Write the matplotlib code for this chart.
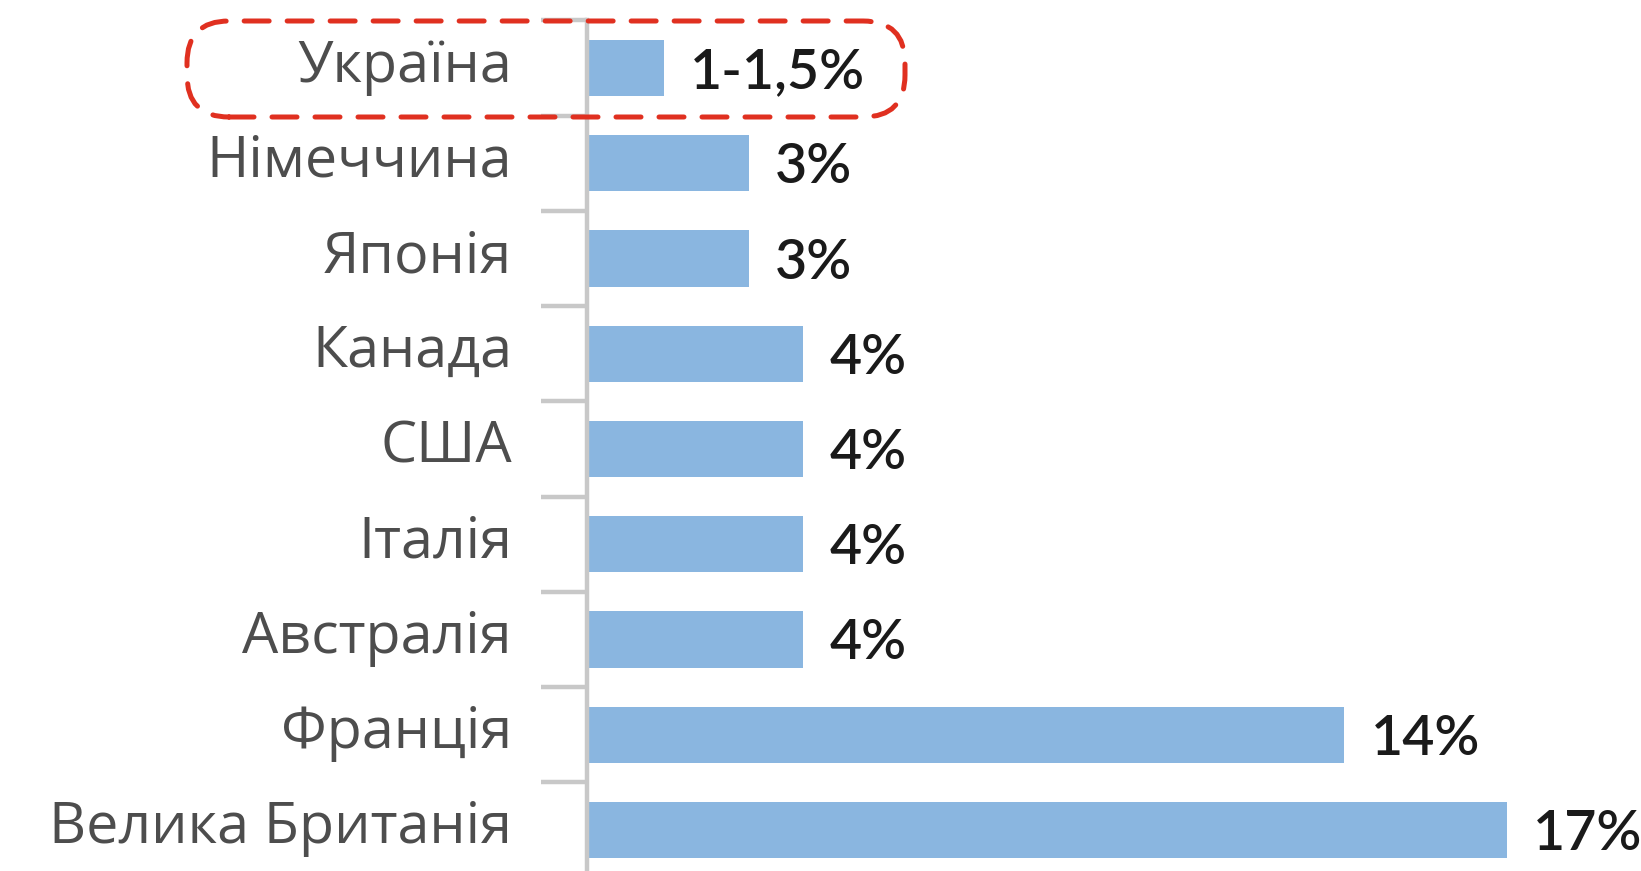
import matplotlib
matplotlib.use("Agg")
import matplotlib.pyplot as plt
from matplotlib.patches import FancyBboxPatch
from matplotlib.transforms import IdentityTransform
import numpy as np

countries = ["Україна", "Німеччина", "Японія", "Канада", "США", "Італія",
             "Австралія", "Франція", "Велика Британія"]
values = [1.43, 3, 3, 4, 4, 4, 4, 14, 17]
value_labels = ["1-1,5%", "3%", "3%", "4%", "4%", "4%", "4%", "14%", "17%"]

LABEL_FONT = ["Open Sans", "DejaVu Sans"]
VALUE_FONT = ["Lato", "DejaVu Sans"]
plt.rcParams["font.family"] = LABEL_FONT

W, H, DPI = 1641, 871, 100
PX = 72 / DPI  # points per pixel
fig = plt.figure(figsize=(W / DPI, H / DPI), dpi=DPI)
fig.patch.set_facecolor("white")

ax_left = 587 / W
ax_top = 1 - 20.4 / H
ax_bottom = 1 - 877.6 / H
ax = fig.add_axes([ax_left, ax_bottom, 1 - ax_left, ax_top - ax_bottom])

y = np.arange(len(countries))
ax.barh(y, values, height=0.59, color="#8ab6e0", zorder=2)
ax.set_ylim(len(countries) - 0.5, -0.5)
ax.set_xlim(0, (W - 587) / 54.1)

for spine in ["top", "right", "bottom"]:
    ax.spines[spine].set_visible(False)
ax.spines["left"].set_color("#c8c8c8")
ax.spines["left"].set_linewidth(3.2)
ax.spines["left"].set_zorder(3)
ax.set_xticks([])

ax.set_yticks(y)
ax.set_yticklabels([])
ax.tick_params(axis="y", which="major", length=0)
ax.set_yticks(np.arange(-0.5, len(countries) + 0.5, 1), minor=True)
ax.tick_params(axis="y", which="minor", length=33, width=3.2, color="#c8c8c8")

FS = 41.3
for yi, name in zip(y, countries):
    ax.annotate(name, xy=(0, yi), xytext=(-75 * PX, -13.5 * PX),
                textcoords="offset points", ha="right", va="baseline",
                fontsize=FS, color="#4d4d4d", fontweight="normal",
                annotation_clip=False)

for yi, v, lab in zip(y, values, value_labels):
    ax.annotate(lab, xy=(v, yi), xytext=(26 * PX, -20 * PX),
                textcoords="offset points", ha="left", va="baseline",
                fontsize=40, color="#1a1a1a", fontweight="semibold",
                family=VALUE_FONT, annotation_clip=False)

# dashed highlight around Ukraine row (pixel coordinates)
x0, x1 = 187, 905
yt, yb = 21, 117
box = FancyBboxPatch((x0, H - yb), x1 - x0, yb - yt,
                     boxstyle="round,pad=0,rounding_size=42",
                     transform=IdentityTransform(), fill=False,
                     edgecolor="#e03020", linewidth=3.6,
                     linestyle=(0, (5, 3.6)), capstyle="round",
                     clip_on=False, zorder=5)
fig.patches.append(box)

fig.savefig("out.png", dpi=DPI, facecolor="white")
